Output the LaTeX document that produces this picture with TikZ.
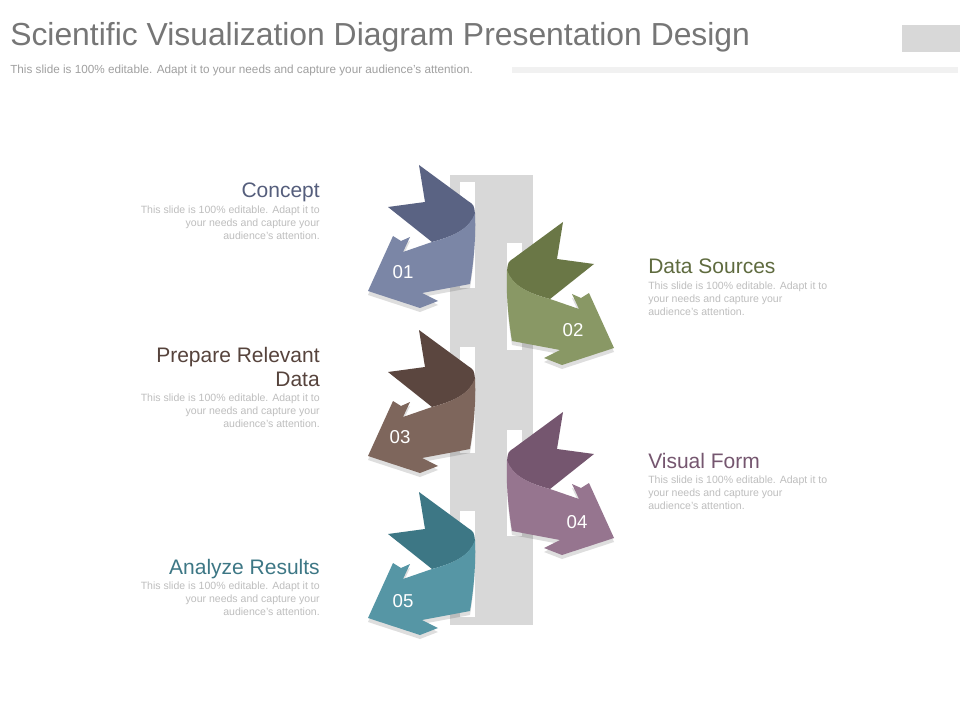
\documentclass[tikz,border=0pt]{standalone}
\usepackage{fontspec}
\setmainfont{Liberation Sans}
\usetikzlibrary{positioning}
\definecolor{titlegray}{RGB}{118,118,118}
\definecolor{subgray}{RGB}{160,160,160}
\definecolor{bodygray}{RGB}{190,190,190}
\definecolor{bargray}{RGB}{216,216,216}
\definecolor{linegray}{RGB}{241,241,241}
\definecolor{conceptlight}{RGB}{123,134,166}
\definecolor{conceptdark}{RGB}{90,99,131}
\definecolor{sourceslight}{RGB}{137,152,101}
\definecolor{sourcesdark}{RGB}{106,119,70}
\definecolor{preparelight}{RGB}{126,102,92}
\definecolor{preparedark}{RGB}{91,70,63}
\definecolor{formlight}{RGB}{150,117,143}
\definecolor{formdark}{RGB}{117,86,111}
\definecolor{analyzelight}{RGB}{86,150,165}
\definecolor{analyzedark}{RGB}{61,119,133}
\tikzset{
    heading/.style = {inner sep=0pt, font=\fontsize{15.75}{17.5}\selectfont},
    body/.style = {inner sep=0pt, text=bodygray, font=\fontsize{7.9}{9.6}\selectfont},
    num/.style = {inner sep=0pt, text=white, font=\fontsize{14}{16}\selectfont},
    slot/.style = {fill=white},
    shade/.style = {fill=black, opacity=.13}
}
% one ribbon arrow, drawn for the left column
\newcommand{\tailshape}{(-72,165) -- (-23,201) .. controls (-17,205) .. (-16,214)
    .. controls (-21,228) and (-36,236) .. (-59,242) -- (-103,207) -- (-66,202) -- cycle}
\newcommand{\frontshape}{(-16,213) .. controls (-21,228) and (-36,236) .. (-59,242)
    -- (-88,252) -- (-81,237) -- (-90,241) -- (-98,236) -- (-123,291) -- (-71,308)
    -- (-53,301) -- (-69,293) -- (-21,284) .. controls (-17,260) and (-15,235) .. (-16,213) -- cycle}
\newcommand{\ribbon}[2]{%
    \fill[shade, yshift=-3pt] \frontshape;
    \fill[#2] \tailshape;
    \fill[#1] \frontshape;
}

\begin{document}
\begin{tikzpicture}[x=0.75pt, y=-0.75pt]
    \useasboundingbox[fill=white] (0,0) rectangle (960,720);

    % header
    \node (title) [anchor=base west, inner sep=0pt, text=titlegray, font=\fontsize{23.9}{28}\selectfont]
        at (10,46) {Scientific Visualization Diagram Presentation Design};
    \node (subtitle) [anchor=base west, inner sep=0pt, text=subgray, font=\fontsize{8.8}{10}\selectfont]
        at (10,74) {This slide is 100\% editable. Adapt it to your needs and capture your audience’s attention.};
    \fill[bargray] (902,25) rectangle (960,52);
    \fill[linegray] (512,67) rectangle (958,73);

    % bar with slots
    \fill[bargray] (450,175) rectangle (533,625);
    \fill[slot] (460,182) rectangle (475,288);
    \fill[slot] (460,347) rectangle (475,453);
    \fill[slot] (460,511) rectangle (475,617);
    \fill[slot] (507,243) rectangle (522,350);
    \fill[slot] (507,430) rectangle (522,536);

    % ribbons
    \begin{scope}[shift={(491,0)}]
        \ribbon{conceptlight}{conceptdark}
    \end{scope}
    \begin{scope}[shift={(491,57)}, xscale=-1]
        \ribbon{sourceslight}{sourcesdark}
    \end{scope}
    \begin{scope}[shift={(491,165)}]
        \ribbon{preparelight}{preparedark}
    \end{scope}
    \begin{scope}[shift={(491,247)}, xscale=-1]
        \ribbon{formlight}{formdark}
    \end{scope}
    \begin{scope}[shift={(491,327)}]
        \ribbon{analyzelight}{analyzedark}
    \end{scope}

    \node (n01) [num] at (403,272) {01};
    \node (n02) [num] at (573,330) {02};
    \node (n03) [num] at (400,437) {03};
    \node (n04) [num] at (577,522) {04};
    \node (n05) [num] at (403,601) {05};

    % labels
    \node (concept) [heading, anchor=base east, text=conceptdark!95!black] at (320,198) {Concept};
    \node (conceptbody) [body, align=right, below=6pt of concept.base east, anchor=north east]
        {This slide is 100\% editable.  Adapt it to\\your needs and capture your\\audience’s attention.};
    \node (prepare) [heading, anchor=base east, align=right, text=preparedark!95!black] at (320,386)
        {Prepare Relevant\\Data};
    \node (preparebody) [body, align=right, below=6pt of prepare.base east, anchor=north east]
        {This slide is 100\% editable.  Adapt it to\\your needs and capture your\\audience’s attention.};
    \node (analyze) [heading, anchor=base east, text=analyzedark] at (320,574) {Analyze  Results};
    \node (analyzebody) [body, align=right, below=6pt of analyze.base east, anchor=north east]
        {This slide is 100\% editable.  Adapt it to\\your needs and capture your\\audience’s attention.};
    \node (sources) [heading, anchor=base west, text=sourcesdark!90!black] at (648,274) {Data Sources};
    \node (sourcesbody) [body, align=left, below=6pt of sources.base west, anchor=north west]
        {This slide is 100\% editable.  Adapt it to\\your needs and capture your\\audience’s attention.};
    \node (form) [heading, anchor=base west, text=formdark] at (648,468) {Visual Form};
    \node (formbody) [body, align=left, below=6pt of form.base west, anchor=north west]
        {This slide is 100\% editable.  Adapt it to\\your needs and capture your\\audience’s attention.};
\end{tikzpicture}
\end{document}
